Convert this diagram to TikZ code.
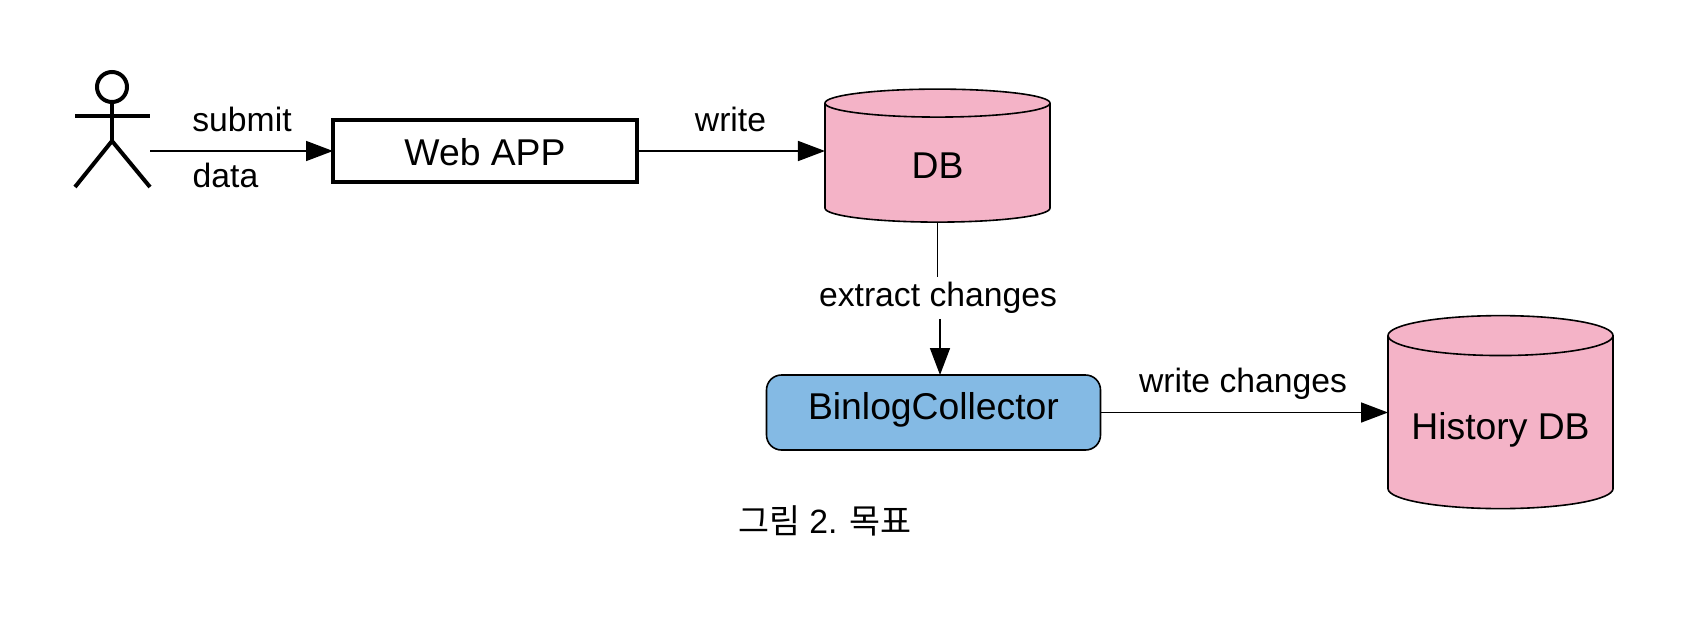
\documentclass[tikz,border=0pt]{standalone}
\usepackage{fontspec}
\setmainfont{Liberation Sans}
\newfontfamily\krfont{Noto Sans CJK KR}
\usetikzlibrary{shapes.geometric,arrows.meta}
\definecolor{dbpink}{HTML}{F4B3C7}
\definecolor{appblue}{HTML}{84BAE4}

\begin{document}
\begin{tikzpicture}[%
    x=1pt, y=-1pt,
    >={Triangle[length=27pt,width=20pt]},
    line width=1.6pt,
    ]
% -------------------------------------------------
% A few box styles
\tikzset{
  base/.style={draw, align=center, inner sep=0pt, outer sep=0pt, font=\fontsize{37.3}{40}\selectfont},
  app/.style={base, rectangle, line width=4pt, minimum width=304pt, minimum height=62pt, text height=29pt},
  store/.style={base, cylinder, shape border rotate=90, fill=dbpink, cylinder uses custom fill,
    cylinder body fill=dbpink, cylinder end fill=dbpink, minimum width=225pt},
  collector/.style={base, rectangle, rounded corners=15pt, fill=appblue,
    minimum width=334pt, minimum height=75pt, text depth=13pt},
  lbl/.style={inner sep=0pt, font=\fontsize{33.7}{36}\selectfont},
  stick/.style={line width=4pt},
  norm/.style={->, draw}
}
\useasboundingbox (0,0) rectangle (1688,637);
% -------------------------------------------------
% Start by placing the nodes
\node [circle, draw, line width=4pt, inner sep=0pt, minimum size=30pt] (head) at (112,87) {};
\coordinate (hip) at (112,141);
\coordinate (armL) at (75,115.5);
\coordinate (armR) at (150,115.5);
\coordinate (footL) at (75,187);
\coordinate (footR) at (150,187);
\coordinate (hand) at (150,151);

\node [app] (webapp) at (485,151) {Web APP};
\node [store, minimum height=133pt, aspect=.54, text height=30.5pt] (db) at (937.5,163) {DB};
\node [collector] (binlog) at (933.5,412.5) {BinlogCollector};
\node [store, minimum height=193pt, aspect=.224, text height=41.5pt] (histdb) at (1500.5,422.5) {History DB};

% Labels
\node [lbl] (lsubmit) at (242,119) {submit};
\node [lbl] (ldata) at (225.5,175) {data};
\node [lbl] (lwrite) at (730.5,119) {write};
\node [lbl, minimum height=40pt] (lextract) at (938,298) {extract changes};
\node [lbl] (lchanges) at (1243,384) {write changes};
\node [font=\fontsize{33.7}{36}\selectfont, inner sep=0pt] (caption) at (825,521) {{\krfont 그림} 2. {\krfont 목표}};

% Actor
\draw [stick] (head.south) -- (hip);
\draw [stick] (armL) -- (armR);
\draw [stick] (footL) -- (hip) -- (footR);

% Connectors
\draw [norm] (hand) -- (webapp.west);
\draw [norm] (webapp.east) -- (db.west |- webapp.east);
\draw (db.south) -- (lextract.north -| db.south);
\draw [norm] (lextract.south -| 940,0) -- (940,375);
\draw [norm] (binlog.east) -- (histdb.west |- binlog.east);
% -------------------------------------------------
\end{tikzpicture}
\end{document}
